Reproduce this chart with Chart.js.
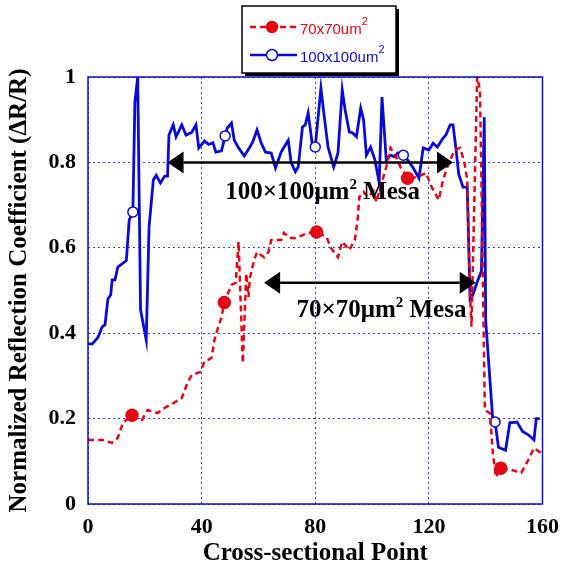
<!DOCTYPE html>
<html>
<head>
<meta charset="utf-8">
<script src="https://cdn.jsdelivr.net/npm/chart.js@4.4.1/dist/chart.umd.min.js"></script>
<style>
  html, body { margin: 0; padding: 0; background: #fff; }
  #wrap { width: 569px; height: 569px; }
</style>
</head>
<body>
<div id="wrap"><canvas id="myChart" width="569" height="569"></canvas></div>
<script>
// 70x70 mesa scan
const redX = [0, 5, 8.4, 10.5, 12.3, 15.5, 19, 21, 24.5, 27.5, 30, 33, 35, 36.5, 39.5, 41, 43.5, 44.5, 45.5, 47, 48,
  50.5, 52, 53, 54.5, 55.7, 56.5, 57, 58.5, 59.5, 60.5, 62, 63.5, 64.5, 68, 69, 71, 73, 75, 77.5, 80.5,
  84, 85.5, 88, 89.5, 92, 94, 95, 95.5, 97, 98.5, 100.5, 101.5, 103, 105, 106.5, 108.5, 110, 112.5,
  116, 119, 121, 123.5, 125, 126.5, 129, 131, 132.5, 133.5, 134.5, 135, 137, 138, 139.7, 141.5, 142.5, 143.6, 145.3,
  149, 152.5, 155, 157, 159, 160]
const redY = [0.15, 0.15, 0.143, 0.155, 0.19, 0.208, 0.197, 0.22, 0.213, 0.227, 0.236, 0.248, 0.283, 0.302, 0.309, 0.333, 0.342, 0.384, 0.407, 0.438, 0.472,
  0.513, 0.518, 0.614, 0.33, 0.54, 0.485, 0.53, 0.571, 0.59, 0.585, 0.578, 0.59, 0.618, 0.618, 0.635, 0.623, 0.623, 0.628, 0.635, 0.637,
  0.625, 0.6, 0.578, 0.614, 0.595, 0.62, 0.672, 0.719, 0.731, 0.719, 0.733, 0.707, 0.743, 0.789, 0.834, 0.813, 0.789, 0.763,
  0.766, 0.775, 0.742, 0.712, 0.759, 0.789, 0.829, 0.834, 0.8, 0.759, 0.494, 0.415, 1.0, 0.97, 0.22, 0.213, 0.12, 0.063, 0.084,
  0.08, 0.073, 0.103, 0.131, 0.122, 0.115]
const redMarks = [15.5, 48, 80.5, 112.5, 145.3]

// 100x100 mesa scan
const blueX = [0, 1.5, 3.5, 5, 6, 7, 8, 8.5, 9.5, 10.5, 13.5, 14.5, 15.8, 16.5, 17.5, 18.5, 20.5, 21.5, 23, 24, 25.5, 27, 28, 28.5,
  30, 31, 33, 34.5, 36.5, 38, 39, 41, 42.5, 44, 45, 47, 48.3, 49, 50.5, 51.5, 53, 55, 57, 58, 59.5, 61, 62.5, 64.5, 66, 68,
  70.5, 71.5, 73, 74, 75.5, 76.5, 77.5, 79, 80, 82, 83, 84.5, 86.5, 88, 89.5, 90.5, 92, 93, 94.5, 96, 97, 98, 99.5, 101,
  102.5, 103.5, 105, 106.5, 108, 109, 111, 112.5, 114.5, 116.5, 118, 120, 121.5, 123, 125, 126, 127.5, 128.5, 129.5, 130.5,
  132, 133.5, 134.5, 135.5, 137, 138.5, 139.5, 140, 142.5, 143.3, 144.5, 147, 148.5, 151, 153, 155, 157, 157.8, 159]
const blueY = [0.375, 0.375, 0.39, 0.415, 0.42, 0.48, 0.49, 0.525, 0.525, 0.555, 0.57, 0.665, 0.684, 0.94, 1.0, 0.455, 0.384, 0.649, 0.759, 0.77, 0.752, 0.768, 0.768, 0.864,
  0.888, 0.86, 0.888, 0.864, 0.87, 0.888, 0.834, 0.85, 0.842, 0.846, 0.824, 0.827, 0.862, 0.88, 0.892, 0.852, 0.834, 0.815, 0.836, 0.848, 0.876, 0.845, 0.824, 0.822, 0.787, 0.824,
  0.852, 0.8, 0.778, 0.789, 0.883, 0.888, 0.916, 0.84, 0.836, 0.974, 0.916, 0.836, 0.789, 0.822, 0.97, 0.923, 0.871, 0.87, 0.86, 0.927, 0.9, 0.817, 0.836, 0.806,
  0.752, 0.953, 0.806, 0.817, 0.813, 0.822, 0.817, 0.806, 0.787, 0.763, 0.834, 0.829, 0.845, 0.836, 0.857, 0.864, 0.888, 0.888, 0.834, 0.773,
  0.742, 0.742, 0.48, 0.49, 0.52, 0.545, 0.906, 0.43, 0.197, 0.192, 0.133, 0.126, 0.19, 0.192, 0.17, 0.162, 0.15, 0.2, 0.2]
const blueMarks = [15.8, 48.3, 80, 111, 143.3]

const xTicks = [0, 40, 80, 120, 160]

const RED = '#e30613'
const BLUE = '#0a0ad6'
const GRID = '#3a3ae8'
const SERIF = '"Liberation Serif", "Times New Roman", serif'
const SANS = '"Liberation Sans", Arial, sans-serif'

function pts(xs, ys) {
  return xs.map((x, i) => ({ x: x, y: ys[i] }))
}

// double arrows with labels, placed in data coordinates
const arrows = [
  { x1: 28, x2: 128.5, y: 0.8, label: '100×100μm', lx: 82.6, ly: 0.715 },
  { x1: 62, x2: 136.5, y: 0.518, label: '70×70μm', lx: 103.3, ly: 0.438 }
]

const drawExtras = {
  id: 'drawExtras',
  afterDatasetsDraw(chart) {
    const c = chart.ctx
    const xs = chart.scales.x, ys = chart.scales.y
    const a = chart.chartArea
    // frame
    c.save()
    c.strokeStyle = BLUE
    c.lineWidth = 1.5
    c.strokeRect(a.left, a.top, a.right - a.left, a.bottom - a.top)

    // arrows
    c.fillStyle = '#000'
    c.strokeStyle = '#000'
    c.lineWidth = 2.5
    arrows.forEach(ar => {
      const px1 = xs.getPixelForValue(ar.x1), px2 = xs.getPixelForValue(ar.x2)
      const py = ys.getPixelForValue(ar.y)
      const hl = 16, hw = 11
      c.beginPath()
      c.moveTo(px1 + hl, py)
      c.lineTo(px2 - hl, py)
      c.stroke()
      c.beginPath()
      c.moveTo(px1, py); c.lineTo(px1 + hl, py - hw); c.lineTo(px1 + hl, py + hw); c.closePath(); c.fill()
      c.beginPath()
      c.moveTo(px2, py); c.lineTo(px2 - hl, py - hw); c.lineTo(px2 - hl, py + hw); c.closePath(); c.fill()

      // label: main text, superscript 2, then " Mesa"
      const big = 'bold 25px ' + SERIF, small = 'bold 15px ' + SERIF
      c.font = big
      const w1 = c.measureText(ar.label).width
      const w3 = c.measureText(' Mesa').width
      c.font = small
      const w2 = c.measureText('2').width
      const total = w1 + w2 + w3
      let tx = xs.getPixelForValue(ar.lx) - total / 2
      const ty = ys.getPixelForValue(ar.ly)
      c.textBaseline = 'alphabetic'
      c.textAlign = 'left'
      c.font = big
      c.fillText(ar.label, tx, ty)
      tx += w1
      c.font = small
      c.fillText('2', tx, ty - 10)
      tx += w2
      c.font = big
      c.fillText(' Mesa', tx, ty)
    })

    // legend box with shadow
    const bx = 242, by = 6, bw = 154, bh = 67
    c.fillStyle = '#000'
    c.fillRect(bx + 3, by + 3, bw, bh)
    c.fillStyle = '#fff'
    c.fillRect(bx, by, bw, bh)
    c.strokeStyle = '#000'
    c.lineWidth = 1.5
    c.strokeRect(bx, by, bw, bh)

    const rows = [
      { ds: chart.data.datasets[0], y: by + 21 },
      { ds: chart.data.datasets[1], y: by + 49 }
    ]
    rows.forEach(r => {
      c.strokeStyle = r.ds.borderColor
      c.lineWidth = 2.5
      c.setLineDash(r.ds.borderDash || [])
      c.beginPath()
      c.moveTo(bx + 8, r.y); c.lineTo(bx + 55, r.y)
      c.stroke()
      c.setLineDash([])
      c.beginPath()
      c.arc(bx + 30, r.y, 5.5, 0, Math.PI * 2)
      c.fillStyle = r.ds.pointBackgroundColor
      c.fill()
      c.lineWidth = 1.5
      c.strokeStyle = r.ds.pointBorderColor
      c.stroke()
      const parts = r.ds.label.split('^')
      c.fillStyle = r.ds.borderColor
      c.font = '15px ' + SANS
      c.textBaseline = 'middle'
      c.fillText(parts[0], bx + 58, r.y + 3)
      const w = c.measureText(parts[0]).width
      c.font = '11px ' + SANS
      c.fillText(parts[1], bx + 58 + w, r.y - 5)
    })
    c.restore()
  }
}

const ctx = document.getElementById('myChart').getContext('2d')
const chart = new Chart(ctx, {
  type: 'line',
  data: {
    datasets: [
      {
        label: '70x70um^2',
        data: pts(redX, redY),
        borderColor: RED,
        borderWidth: 2.5,
        borderDash: [6, 4],
        pointBackgroundColor: RED,
        pointBorderColor: RED,
        pointRadius: c => redMarks.includes(c.raw && c.raw.x) ? 5.5 : 0,
        tension: 0,
        fill: false
      },
      {
        label: '100x100um^2',
        data: pts(blueX, blueY),
        borderColor: BLUE,
        borderWidth: 2.8,
        pointBackgroundColor: '#fff',
        pointBorderColor: BLUE,
        pointBorderWidth: 1.5,
        pointRadius: c => blueMarks.includes(c.raw && c.raw.x) ? 5 : 0,
        tension: 0,
        fill: false
      }
    ]
  },
  options: {
    responsive: false,
    animation: false,
    layout: { padding: { left: 0, top: 77, right: 24, bottom: 0 } },
    plugins: { legend: { display: false }, tooltip: { enabled: false } },
    scales: {
      x: {
        type: 'linear',
        min: 0, max: 160,
        afterBuildTicks: s => { s.ticks = xTicks.map(v => ({ value: v })) },
        afterFit: s => { s.height = 65 },
        grid: { color: GRID, lineWidth: 1, drawTicks: false },
        border: { display: false, dash: [2, 3] },
        ticks: { padding: 10, color: '#000', font: { family: SERIF, size: 22, weight: 'bold' } },
        title: {
          display: true, text: 'Cross-sectional Point', color: '#000', padding: { top: 2, bottom: 0 },
          font: { family: SERIF, size: 25, weight: 'bold' }
        }
      },
      y: {
        min: 0, max: 1,
        ticks: {
          stepSize: 0.2, padding: 12, color: '#000',
          callback: v => String(Math.round(v * 10) / 10),
          font: { family: SERIF, size: 22, weight: 'bold' }
        },
        afterFit: s => { s.width = 88 },
        grid: { color: GRID, lineWidth: 1, drawTicks: false },
        border: { display: false, dash: [2, 3] },
        title: {
          display: true, text: 'Normalized Reflection Coefficient (ΔR/R)', color: '#000', padding: { top: 5, bottom: 0 },
          font: { family: SERIF, size: 25, weight: 'bold' }
        }
      }
    }
  },
  plugins: [drawExtras]
})
</script>
</body>
</html>
